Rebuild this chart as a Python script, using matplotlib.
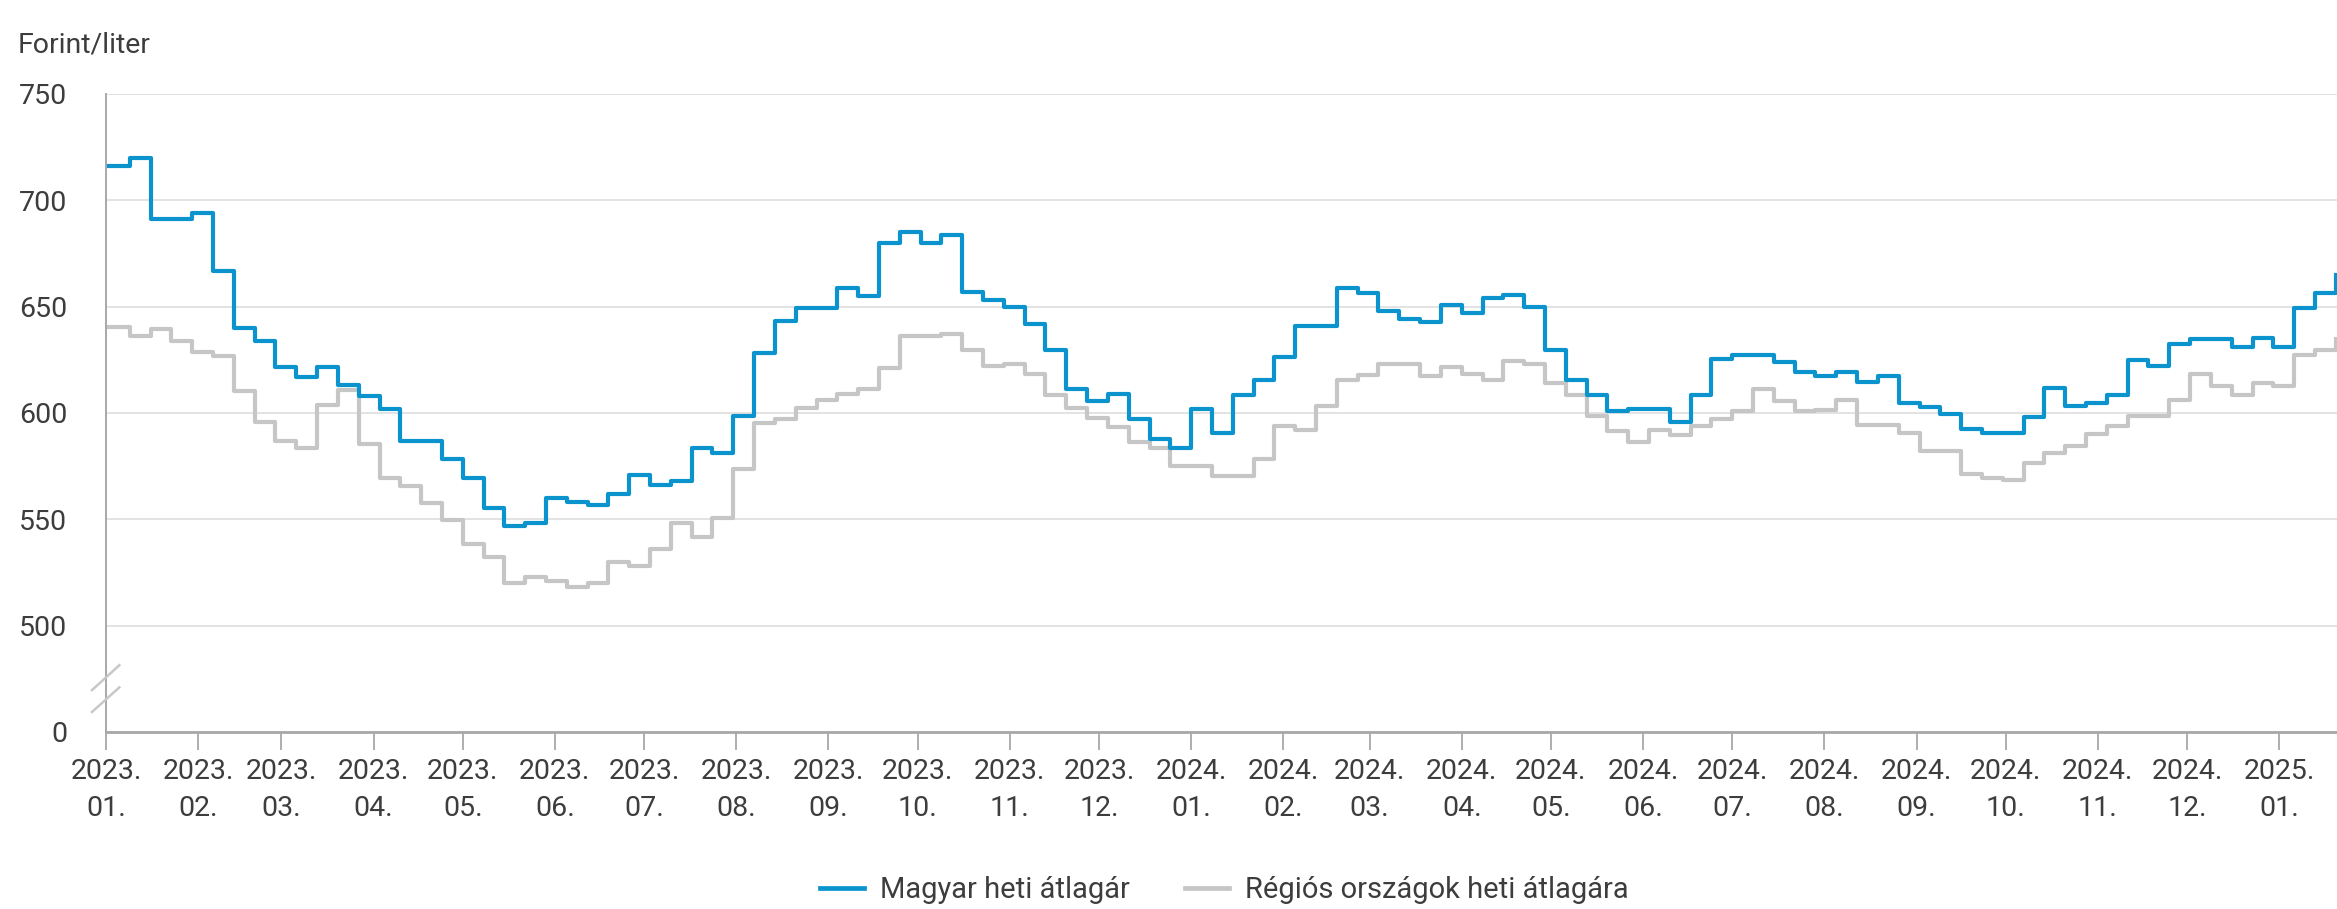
import matplotlib
matplotlib.use("Agg")
import matplotlib.pyplot as plt
import matplotlib.dates as mdates
import matplotlib.transforms as mtransforms
import pandas as pd
import numpy as np

plt.rcParams['font.family'] = ['Roboto', 'DejaVu Sans']

# ---- data (weekly averages, Ft/liter) ----
week_start = "2023-01-02"
n_weeks = 108
magyar = [716, 720, 691, 691, 694, 667, 640, 634, 621.5, 617,
          621.5, 613, 608, 602, 587, 587, 578.5, 569.6, 555.5, 547,
          548.5, 560, 558, 556.7, 562, 571, 566, 568, 583.6, 581.3,
          598.4, 628, 643.3, 649.2, 649.2, 659, 655, 680, 685, 680,
          683.6, 657, 653, 650, 642, 629.4, 611.5, 605.5, 609, 597.3,
          587.6, 583.4, 602, 590.6, 608.4, 615.6, 626.3, 641, 641, 659,
          656.3, 648, 644.2, 643, 650.8, 646.9, 654, 655.5, 650, 629.4,
          615.6, 608.4, 601, 602, 602, 596, 608.4, 625.5, 627.3, 627.3,
          624, 619.5, 617.5, 619.5, 614.4, 617.5, 604.7, 602.7, 599.5, 592.5,
          590.6, 590.6, 598, 611.7, 603.1, 604.7, 608.3, 625, 622, 632.5,
          634.7, 634.7, 630.8, 635.2, 631, 649.2, 656.3, 665]
regios = [640.6, 636, 639.4, 634, 628.5, 627, 610.5, 596, 587, 583.5,
          603.7, 610.7, 585.6, 569.6, 565.6, 557.5, 549.5, 538.3, 532.5, 519.9,
          523, 521, 518, 520, 529.8, 528, 536, 548.5, 541.8, 550.8,
          573.8, 595.3, 597.3, 602.4, 606.3, 609, 611.5, 621, 636.3, 636.3,
          637.3, 629.4, 622.2, 623, 618.3, 608.4, 602.4, 597.7, 593.5, 586.4,
          583.6, 575, 575, 570.3, 570.3, 578.6, 593.8, 592.2, 603.5, 615.6,
          617.7, 623, 623, 617.5, 621.4, 618.4, 615.3, 624.5, 623, 614,
          608.4, 598.5, 591.5, 586.3, 592.2, 589.5, 593.8, 597.3, 600.8, 611.4,
          605.5, 600.8, 601.6, 606.3, 594.5, 594.5, 590.6, 582.3, 582.3, 571.4,
          569.5, 568.3, 576.6, 581.3, 584.4, 590, 593.8, 598.5, 598.5, 606.3,
          618.3, 612.5, 608.6, 614, 612.5, 627.3, 629.7, 635]
series_names = ["Magyar heti átlagár", "Régiós országok heti átlagára"]
y_ticks = [450, 500, 550, 600, 650, 700, 750]
y_labels = ["0", "500", "550", "600", "650", "700", "750"]
month_ticks = pd.date_range("2023-01-01", "2025-01-01", freq="MS")

dates = pd.date_range(week_start, periods=n_weeks, freq="7D")

BLUE = "#0b93cd"
GRAY = "#c6c6c6"
TXT = "#3d3d3d"
GRID = "#e3e3e3"
AX = "#a8a8a8"

W, H = 2337, 909
fig = plt.figure(figsize=(W / 100, H / 100), dpi=100)
ax = fig.add_axes([106 / W, 177 / H, 1 - 106 / W, (815 - 177) / H])

ax.step(dates, magyar, where="post", color=BLUE, lw=3.0, label=series_names[0], zorder=3)
ax.step(dates, regios, where="post", color=GRAY, lw=3.0, label=series_names[1], zorder=2)

ax.set_ylim(450, 750)
ax.set_yticks(y_ticks)
ax.set_yticklabels(y_labels)
ax.set_xlim(pd.Timestamp("2023-01-01"), dates[-1] + pd.Timedelta(hours=10))

ax.set_xticks(month_ticks)
ax.set_xticklabels([f"{d.year}.\n{d.month:02d}." for d in month_ticks])
for lab in ax.get_xticklabels():
    lab.set_linespacing(1.45)

ax.grid(axis="y", color=GRID, lw=1.4)
ax.set_axisbelow(True)
for s in ["top", "right"]:
    ax.spines[s].set_visible(False)
ax.spines["left"].set_color(AX)
ax.spines["left"].set_linewidth(1.4)
ax.spines["bottom"].set_color(AX)
ax.spines["bottom"].set_linewidth(2.0)

ax.tick_params(axis="y", length=0, pad=28, labelsize=20.5, labelcolor=TXT)
ax.tick_params(axis="x", length=13, width=1.3, color=AX, pad=6, labelsize=20.5, labelcolor=TXT)

# axis break marks
trans = mtransforms.blended_transform_factory(ax.transAxes, ax.transData)
for y0, y1 in [(469.7, 481.4), (459.4, 471.0)]:
    ax.plot([-0.0063, 0.006], [y0, y1], transform=trans, color="#c8c8c8", lw=1.8,
            clip_on=False, zorder=5)

fig.text(18 / W, 1 - 45 / H, "Forint/liter", fontsize=20.5, color=TXT, va="center", ha="left")

leg = fig.legend(loc="center", bbox_to_anchor=(0.524, 19 / H), ncol=2, frameon=False,
                 fontsize=21, handlelength=1.5, handletextpad=0.55, columnspacing=1.9)
for t in leg.get_texts():
    t.set_color(TXT)
for h in leg.get_lines():
    h.set_linewidth(3.4)

fig.savefig("out.png", dpi=100, facecolor="white")
